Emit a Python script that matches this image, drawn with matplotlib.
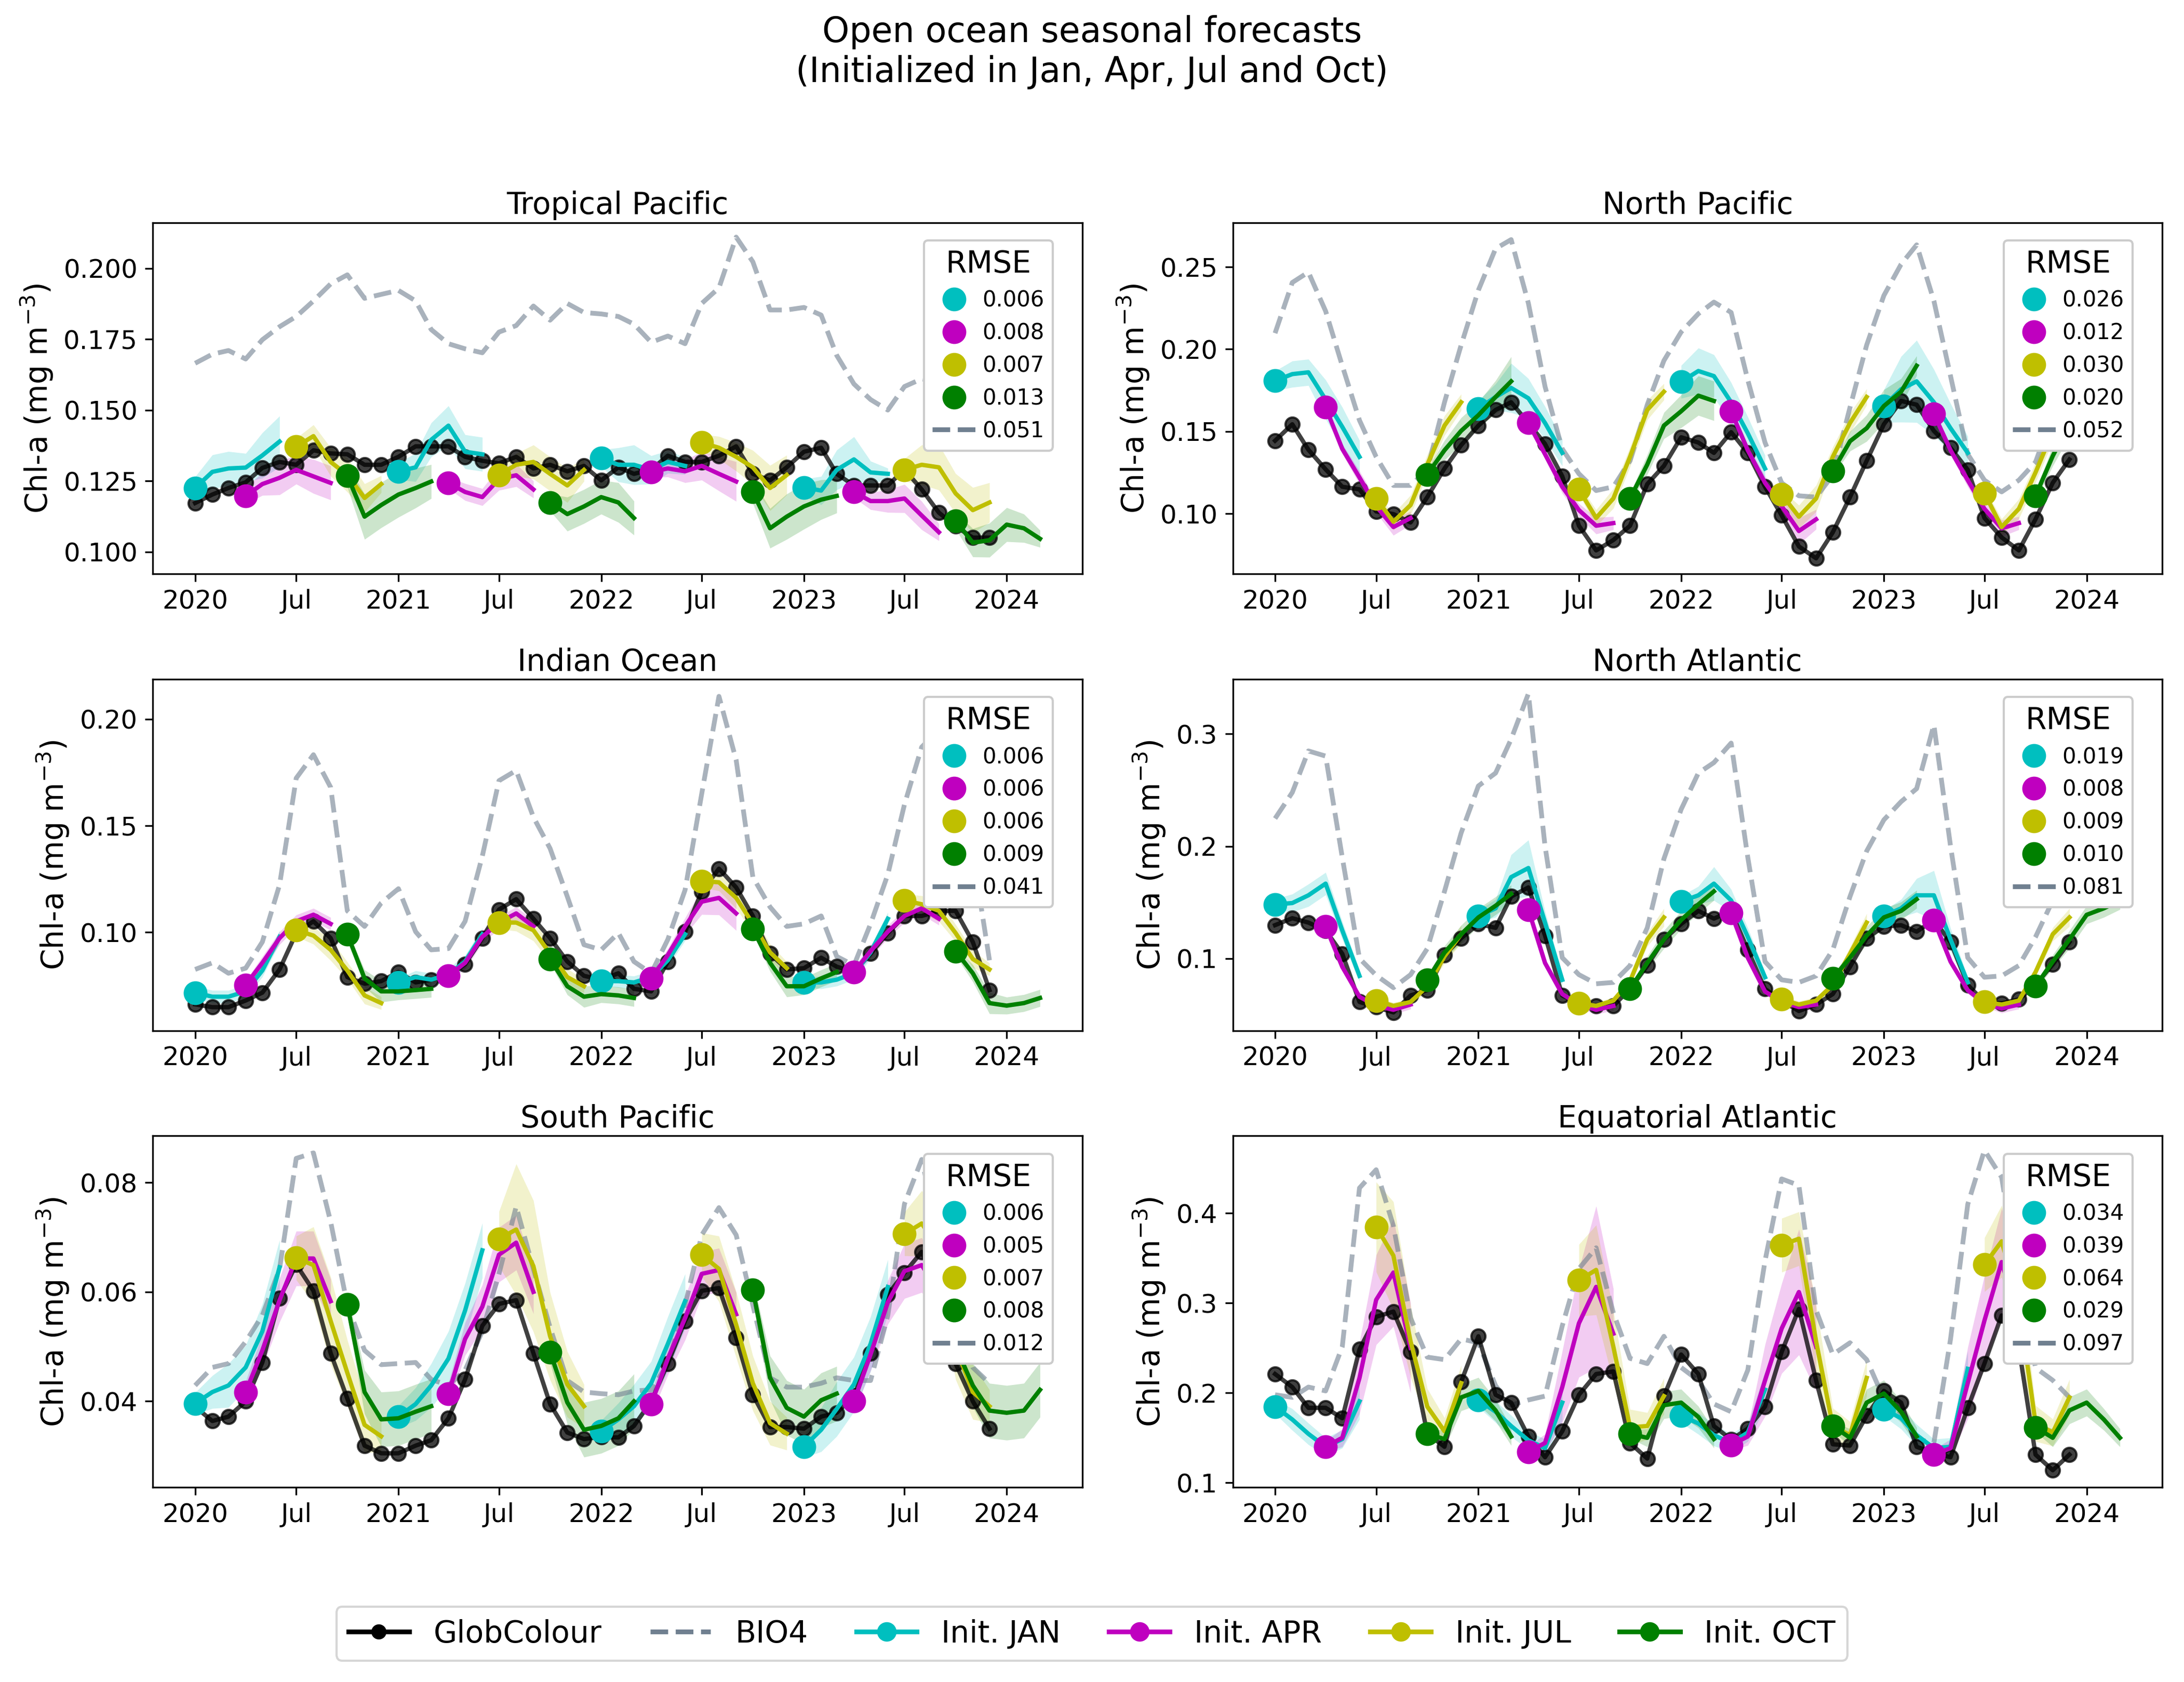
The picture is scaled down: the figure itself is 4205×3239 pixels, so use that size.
import matplotlib
matplotlib.use('Agg')
import matplotlib.pyplot as plt
import matplotlib.dates as mdates
from matplotlib.lines import Line2D
import numpy as np
import pandas as pd

years = [2020, 2021, 2022, 2023]
init_months = [1, 4, 7, 10]
init_names = ['Init. JAN', 'Init. APR', 'Init. JUL', 'Init. OCT']
init_colors = ['c', 'm', 'y', 'g']
bio4_color = 'slategray'

# ---------------- Tropical Pacific ----------------
tp_obs = [0.1172, 0.1202, 0.1225, 0.1245, 0.1296, 0.1317, 0.1307, 0.1358, 0.1347, 0.1344, 0.1307, 0.1307,
          0.1335, 0.1372, 0.1372, 0.1372, 0.1335, 0.1321, 0.1312, 0.1335, 0.1294, 0.1307, 0.1284, 0.1303,
          0.1252, 0.1298, 0.1275, 0.1290, 0.1339, 0.1317, 0.1317, 0.1339, 0.1372, 0.1275, 0.1252, 0.1298,
          0.1353, 0.1367, 0.1275, 0.1234, 0.1234, 0.1234, 0.1290, 0.1220, 0.1138, 0.1090, 0.1050, 0.1050]
tp_bio4 = [0.1665, 0.1697, 0.1710, 0.1680, 0.1748, 0.1794, 0.1830, 0.1885, 0.1945, 0.1977, 0.1894, 0.1908,
           0.1922, 0.1885, 0.1784, 0.1734, 0.1716, 0.1702, 0.1775, 0.1798, 0.1867, 0.1817, 0.1876, 0.1844,
           0.1839, 0.1830, 0.1803, 0.1739, 0.1761, 0.1734, 0.1876, 0.1931, 0.2110, 0.2023, 0.1853, 0.1853,
           0.1862, 0.1835, 0.1693, 0.1592, 0.1537, 0.1500, 0.1583, 0.1610, 0.1600, 0.1580, 0.1600, 0.1580]
tp_jan = [[0.1225, 0.1282, 0.1294, 0.1297, 0.1340, 0.1389], [0.1284, 0.1298, 0.1395, 0.1445, 0.1353, 0.1344],
          [0.1330, 0.1307, 0.1307, 0.1289, 0.1317, 0.1303], [0.1227, 0.1216, 0.1289, 0.1326, 0.1280, 0.1275]]
tp_apr = [[0.1197, 0.1239, 0.1261, 0.1289, 0.1266, 0.1243], [0.1243, 0.1211, 0.1193, 0.1257, 0.1270, 0.1220],
          [0.1282, 0.1294, 0.1284, 0.1303, 0.1275, 0.1248], [0.1211, 0.1179, 0.1179, 0.1188, 0.1128, 0.1069]]
tp_jul = [[0.1371, 0.1408, 0.1317, 0.1271, 0.1190, 0.1239], [0.1271, 0.1307, 0.1317, 0.1275, 0.1234, 0.1289],
          [0.1385, 0.1367, 0.1335, 0.1298, 0.1225, 0.1271], [0.1289, 0.1307, 0.1298, 0.1206, 0.1147, 0.1174]]
tp_oct = [[0.1268, 0.1124, 0.1165, 0.1202, 0.1225, 0.1248], [0.1174, 0.1133, 0.1160, 0.1193, 0.1174, 0.1119],
          [0.1211, 0.1083, 0.1124, 0.1160, 0.1184, 0.1197], [0.1110, 0.1032, 0.1041, 0.1096, 0.1083, 0.1046]]
tp_jan_sd = [[0.004, 0.006, 0.006, 0.005, 0.008, 0.009], [0.003, 0.005, 0.006, 0.007, 0.006, 0.006],
             [0.003, 0.006, 0.007, 0.005, 0.004, 0.003], [0.003, 0.005, 0.007, 0.008, 0.004, 0.002]]
tp_apr_sd = [[0.003, 0.004, 0.006, 0.005, 0.006, 0.006], [0.002, 0.003, 0.003, 0.004, 0.004, 0.003],
             [0.002, 0.003, 0.004, 0.005, 0.006, 0.007], [0.002, 0.003, 0.004, 0.005, 0.005, 0.003]]
tp_jul_sd = [[0.003, 0.004, 0.005, 0.006, 0.005, 0.003], [0.003, 0.004, 0.006, 0.006, 0.006, 0.004],
             [0.003, 0.004, 0.005, 0.006, 0.008, 0.007], [0.004, 0.007, 0.008, 0.007, 0.008, 0.007]]
tp_oct_sd = [[0.004, 0.008, 0.008, 0.008, 0.007, 0.006], [0.003, 0.006, 0.006, 0.006, 0.007, 0.006],
             [0.004, 0.007, 0.008, 0.008, 0.007, 0.006], [0.003, 0.005, 0.006, 0.006, 0.005, 0.003]]
tp_rmse = ['0.006', '0.008', '0.007', '0.013', '0.051']

# ---------------- North Pacific ----------------
np_obs = [0.1443, 0.1543, 0.1388, 0.1269, 0.1163, 0.1147, 0.1013, 0.0997, 0.0946, 0.1100, 0.1274, 0.1416,
          0.1535, 0.1630, 0.1677, 0.1551, 0.1424, 0.1227, 0.0926, 0.0776, 0.0839, 0.0926, 0.1179, 0.1290,
          0.1464, 0.1432, 0.1369, 0.1495, 0.1369, 0.1163, 0.0989, 0.0800, 0.0728, 0.0886, 0.1100, 0.1321,
          0.1543, 0.1685, 0.1662, 0.1503, 0.1400, 0.1266, 0.0973, 0.0855, 0.0776, 0.0966, 0.1187, 0.1329]
np_bio4 = [0.2097, 0.2405, 0.2468, 0.2231, 0.1899, 0.1567, 0.1345, 0.1171, 0.1171, 0.1266, 0.1677, 0.2025,
           0.2358, 0.2611, 0.2666, 0.2279, 0.1772, 0.1393, 0.1242, 0.1140, 0.1163, 0.1321, 0.1662, 0.1930,
           0.2104, 0.2215, 0.2286, 0.2223, 0.1812, 0.1432, 0.1187, 0.1108, 0.1100, 0.1234, 0.1646, 0.2025,
           0.2326, 0.2516, 0.2634, 0.2294, 0.1836, 0.1361, 0.1203, 0.1132, 0.1203, 0.1313, 0.1600, 0.2000]
np_jan = [[0.1807, 0.1848, 0.1859, 0.1693, 0.1527, 0.1345], [0.1638, 0.1709, 0.1764, 0.1701, 0.1551, 0.1369],
          [0.1801, 0.1867, 0.1836, 0.1677, 0.1488, 0.1274], [0.1654, 0.1756, 0.1804, 0.1677, 0.1519, 0.1369]]
np_apr = [[0.1646, 0.1393, 0.1219, 0.1045, 0.0918, 0.0973], [0.1551, 0.1361, 0.1163, 0.1021, 0.0926, 0.0942],
          [0.1622, 0.1385, 0.1187, 0.1045, 0.0894, 0.0965], [0.1606, 0.1385, 0.1203, 0.1029, 0.0910, 0.0942]]
np_jul = [[0.1092, 0.0950, 0.1052, 0.1298, 0.1535, 0.1677], [0.1147, 0.0973, 0.1092, 0.1345, 0.1630, 0.1741],
          [0.1116, 0.0981, 0.1092, 0.1345, 0.1551, 0.1709], [0.1124, 0.0918, 0.1029, 0.1250, 0.1500, 0.1650]]
np_oct = [[0.1238, 0.1385, 0.1503, 0.1598, 0.1709, 0.1804], [0.1092, 0.1298, 0.1535, 0.1622, 0.1717, 0.1685],
          [0.1258, 0.1440, 0.1519, 0.1654, 0.1741, 0.1899], [0.1108, 0.1350, 0.1550, 0.1650, 0.1700, 0.1750]]
np_jan_sd = [[0.006, 0.008, 0.008, 0.012, 0.012, 0.010], [0.005, 0.008, 0.015, 0.012, 0.010, 0.008],
             [0.010, 0.014, 0.013, 0.012, 0.010, 0.008], [0.010, 0.020, 0.025, 0.020, 0.015, 0.010]]
np_apr_sd = [[0.002, 0.003, 0.004, 0.004, 0.005, 0.004], [0.002, 0.003, 0.004, 0.004, 0.005, 0.004],
             [0.002, 0.003, 0.004, 0.004, 0.008, 0.006], [0.002, 0.003, 0.004, 0.004, 0.005, 0.004]]
np_jul_sd = [[0.003, 0.005, 0.006, 0.006, 0.006, 0.005], [0.003, 0.005, 0.006, 0.006, 0.006, 0.005],
             [0.003, 0.007, 0.008, 0.006, 0.006, 0.005], [0.003, 0.005, 0.006, 0.006, 0.006, 0.005]]
np_oct_sd = [[0.003, 0.006, 0.008, 0.008, 0.010, 0.015], [0.003, 0.006, 0.008, 0.010, 0.012, 0.012],
             [0.003, 0.006, 0.008, 0.010, 0.008, 0.006], [0.003, 0.006, 0.008, 0.008, 0.008, 0.008]]
np_rmse = ['0.026', '0.012', '0.030', '0.020', '0.052']

# ---------------- Indian Ocean ----------------
io_obs = [0.0661, 0.0648, 0.0648, 0.0679, 0.0716, 0.0825, 0.0996, 0.1051, 0.0972, 0.0789, 0.0758, 0.0770,
          0.0813, 0.0764, 0.0777, 0.0795, 0.0850, 0.0972, 0.1106, 0.1155, 0.1063, 0.0972, 0.0862, 0.0795,
          0.0777, 0.0807, 0.0734, 0.0722, 0.0862, 0.1002, 0.1190, 0.1298, 0.1210, 0.1076, 0.0899, 0.0825,
          0.0831, 0.0880, 0.0838, 0.0813, 0.0899, 0.0996, 0.1076, 0.1076, 0.1100, 0.1100, 0.0954, 0.0728]
io_bio4 = [0.0825, 0.0856, 0.0807, 0.0831, 0.0954, 0.1222, 0.1723, 0.1833, 0.1680, 0.1100, 0.1027, 0.1137,
           0.1204, 0.1002, 0.0917, 0.0923, 0.1051, 0.1357, 0.1711, 0.1759, 0.1540, 0.1393, 0.1167, 0.0941,
           0.0917, 0.0996, 0.0862, 0.0807, 0.0966, 0.1198, 0.1650, 0.2107, 0.1808, 0.1259, 0.1118, 0.1027,
           0.1039, 0.1076, 0.0886, 0.0844, 0.1039, 0.1271, 0.1600, 0.1869, 0.1950, 0.1900, 0.1370, 0.0868]
io_jan = [[0.0716, 0.0697, 0.0697, 0.0722, 0.0820, 0.0978], [0.0764, 0.0789, 0.0777, 0.0801, 0.0862, 0.0990],
          [0.0770, 0.0770, 0.0764, 0.0789, 0.0868, 0.0990], [0.0764, 0.0764, 0.0777, 0.0807, 0.0905, 0.1063]]
io_apr = [[0.0752, 0.0856, 0.0972, 0.1051, 0.1082, 0.1039], [0.0795, 0.0856, 0.0978, 0.1045, 0.1088, 0.1027],
          [0.0783, 0.0893, 0.1027, 0.1143, 0.1161, 0.1088], [0.0813, 0.0911, 0.1002, 0.1076, 0.1112, 0.1063]]
io_jul = [[0.1009, 0.0984, 0.0917, 0.0820, 0.0703, 0.0667], [0.1045, 0.1045, 0.1009, 0.0899, 0.0789, 0.0746],
          [0.1240, 0.1234, 0.1161, 0.1039, 0.0905, 0.0831], [0.1149, 0.1131, 0.1100, 0.0996, 0.0874, 0.0825]]
io_oct = [[0.0990, 0.0783, 0.0722, 0.0722, 0.0728, 0.0734], [0.0874, 0.0746, 0.0697, 0.0709, 0.0703, 0.0691],
          [0.1015, 0.0856, 0.0746, 0.0746, 0.0783, 0.0813], [0.0911, 0.0807, 0.0667, 0.0655, 0.0667, 0.0691]]
io_jan_sd = [[0.003, 0.003, 0.003, 0.003, 0.003, 0.003], [0.002, 0.003, 0.003, 0.003, 0.003, 0.003],
             [0.002, 0.003, 0.003, 0.003, 0.003, 0.003], [0.002, 0.003, 0.003, 0.003, 0.003, 0.003]]
io_apr_sd = [[0.002, 0.003, 0.003, 0.003, 0.003, 0.003], [0.002, 0.003, 0.003, 0.003, 0.003, 0.003],
             [0.002, 0.003, 0.004, 0.006, 0.008, 0.008], [0.002, 0.003, 0.003, 0.003, 0.003, 0.003]]
io_jul_sd = [[0.003, 0.004, 0.005, 0.004, 0.004, 0.003], [0.003, 0.004, 0.005, 0.004, 0.004, 0.003],
             [0.003, 0.004, 0.005, 0.004, 0.004, 0.003], [0.003, 0.004, 0.005, 0.004, 0.004, 0.003]]
io_oct_sd = [[0.002, 0.004, 0.005, 0.004, 0.004, 0.004], [0.002, 0.004, 0.005, 0.004, 0.004, 0.004],
             [0.002, 0.004, 0.005, 0.004, 0.004, 0.004], [0.002, 0.004, 0.005, 0.004, 0.004, 0.004]]
io_rmse = ['0.006', '0.006', '0.006', '0.009', '0.041']

# ---------------- North Atlantic ----------------
na_obs = [0.1297, 0.1359, 0.1320, 0.1250, 0.1042, 0.0613, 0.0567, 0.0520, 0.0671, 0.0717, 0.1030, 0.1181,
          0.1308, 0.1273, 0.1552, 0.1633, 0.1204, 0.0671, 0.0601, 0.0578, 0.0578, 0.0729, 0.0937, 0.1169,
          0.1308, 0.1424, 0.1355, 0.1424, 0.1077, 0.0729, 0.0625, 0.0532, 0.0590, 0.0683, 0.0926, 0.1181,
          0.1285, 0.1297, 0.1239, 0.1343, 0.1146, 0.0764, 0.0613, 0.0601, 0.0636, 0.0764, 0.0949, 0.1146]
na_bio4 = [0.2247, 0.2479, 0.2849, 0.2803, 0.1900, 0.1000, 0.0850, 0.0740, 0.0856, 0.1088, 0.1598, 0.2119,
           0.2537, 0.2652, 0.2954, 0.3359, 0.2000, 0.1007, 0.0856, 0.0775, 0.0787, 0.0937, 0.1273, 0.1888,
           0.2328, 0.2652, 0.2745, 0.2919, 0.1900, 0.0972, 0.0810, 0.0787, 0.0845, 0.1077, 0.1552, 0.1957,
           0.2235, 0.2397, 0.2513, 0.3081, 0.2000, 0.1007, 0.0833, 0.0845, 0.0937, 0.1192, 0.1517, 0.1900]
na_jan = [[0.1482, 0.1494, 0.1563, 0.1667, 0.1250, 0.0845], [0.1378, 0.1447, 0.1725, 0.1806, 0.1320, 0.0810],
          [0.1506, 0.1563, 0.1667, 0.1517, 0.1192, 0.0833], [0.1378, 0.1447, 0.1563, 0.1563, 0.1169, 0.0787]]
na_apr = [[0.1285, 0.0926, 0.0659, 0.0578, 0.0543, 0.0590], [0.1436, 0.0960, 0.0683, 0.0590, 0.0543, 0.0578],
          [0.1406, 0.1007, 0.0706, 0.0613, 0.0567, 0.0590], [0.1343, 0.0972, 0.0717, 0.0601, 0.0555, 0.0590]]
na_jul = [[0.0625, 0.0578, 0.0613, 0.0752, 0.1019, 0.1216], [0.0601, 0.0578, 0.0625, 0.0798, 0.1169, 0.1366],
          [0.0636, 0.0590, 0.0625, 0.0764, 0.1042, 0.1320], [0.0613, 0.0590, 0.0625, 0.0879, 0.1216, 0.1366]]
na_oct = [[0.0810, 0.1053, 0.1216, 0.1366, 0.1470, 0.1575], [0.0729, 0.0960, 0.1169, 0.1343, 0.1482, 0.1598],
          [0.0822, 0.1007, 0.1204, 0.1366, 0.1424, 0.1528], [0.0752, 0.0972, 0.1169, 0.1389, 0.1447, 0.1517]]
na_jan_sd = [[0.005, 0.008, 0.010, 0.010, 0.008, 0.005], [0.005, 0.008, 0.020, 0.025, 0.010, 0.005],
             [0.005, 0.008, 0.015, 0.010, 0.008, 0.005], [0.005, 0.008, 0.015, 0.022, 0.010, 0.005]]
na_apr_sd = [[0.004, 0.004, 0.003, 0.003, 0.004, 0.004], [0.004, 0.004, 0.003, 0.003, 0.004, 0.004],
             [0.004, 0.004, 0.003, 0.003, 0.004, 0.004], [0.004, 0.004, 0.003, 0.003, 0.004, 0.004]]
na_jul_sd = [[0.003, 0.003, 0.003, 0.004, 0.006, 0.008], [0.003, 0.003, 0.003, 0.004, 0.006, 0.008],
             [0.003, 0.003, 0.003, 0.004, 0.006, 0.008], [0.003, 0.003, 0.003, 0.004, 0.006, 0.008]]
na_oct_sd = [[0.003, 0.006, 0.008, 0.008, 0.008, 0.008], [0.003, 0.006, 0.008, 0.008, 0.008, 0.008],
             [0.003, 0.006, 0.008, 0.008, 0.008, 0.008], [0.003, 0.006, 0.008, 0.008, 0.008, 0.008]]
na_rmse = ['0.019', '0.008', '0.009', '0.010', '0.081']

# ---------------- South Pacific ----------------
sp_obs = [0.0390, 0.0364, 0.0372, 0.0400, 0.0471, 0.0588, 0.0650, 0.0602, 0.0488, 0.0405, 0.0319, 0.0305,
          0.0305, 0.0319, 0.0329, 0.0369, 0.0440, 0.0538, 0.0578, 0.0585, 0.0488, 0.0395, 0.0343, 0.0331,
          0.0335, 0.0334, 0.0355, 0.0400, 0.0469, 0.0547, 0.0602, 0.0607, 0.0516, 0.0412, 0.0353, 0.0353,
          0.0350, 0.0372, 0.0379, 0.0410, 0.0488, 0.0595, 0.0635, 0.0673, 0.0600, 0.0469, 0.0400, 0.0350]
sp_bio4 = [0.0429, 0.0462, 0.0469, 0.0509, 0.0557, 0.0642, 0.0844, 0.0854, 0.0728, 0.0576, 0.0493, 0.0467,
           0.0469, 0.0471, 0.0440, 0.0429, 0.0457, 0.0528, 0.0633, 0.0756, 0.0642, 0.0535, 0.0438, 0.0417,
           0.0414, 0.0412, 0.0419, 0.0421, 0.0469, 0.0576, 0.0704, 0.0754, 0.0704, 0.0576, 0.0443, 0.0426,
           0.0426, 0.0433, 0.0443, 0.0438, 0.0438, 0.0557, 0.0761, 0.0842, 0.0700, 0.0550, 0.0462, 0.0433]
sp_jan = [[0.0396, 0.0417, 0.0429, 0.0462, 0.0528, 0.0645], [0.0372, 0.0395, 0.0429, 0.0478, 0.0566, 0.0676],
          [0.0345, 0.0367, 0.0391, 0.0433, 0.0505, 0.0583], [0.0317, 0.0348, 0.0386, 0.0431, 0.0505, 0.0609]]
sp_apr = [[0.0417, 0.0493, 0.0585, 0.0661, 0.0661, 0.0583], [0.0414, 0.0514, 0.0573, 0.0668, 0.0690, 0.0600],
          [0.0395, 0.0478, 0.0552, 0.0633, 0.0640, 0.0559], [0.0400, 0.0486, 0.0581, 0.0638, 0.0649, 0.0600]]
sp_jul = [[0.0662, 0.0649, 0.0547, 0.0452, 0.0357, 0.0336], [0.0697, 0.0714, 0.0647, 0.0519, 0.0431, 0.0391],
          [0.0668, 0.0642, 0.0540, 0.0433, 0.0360, 0.0341], [0.0706, 0.0725, 0.0680, 0.0500, 0.0417, 0.0391]]
sp_oct = [[0.0577, 0.0417, 0.0367, 0.0369, 0.0381, 0.0391], [0.0490, 0.0398, 0.0348, 0.0355, 0.0369, 0.0400],
          [0.0604, 0.0443, 0.0388, 0.0372, 0.0402, 0.0414], [0.0500, 0.0429, 0.0383, 0.0379, 0.0383, 0.0421]]
sp_jan_sd = [[0.002, 0.003, 0.004, 0.004, 0.005, 0.005], [0.002, 0.003, 0.004, 0.005, 0.005, 0.005],
             [0.002, 0.003, 0.004, 0.004, 0.005, 0.005], [0.002, 0.004, 0.005, 0.005, 0.005, 0.005]]
sp_apr_sd = [[0.002, 0.003, 0.004, 0.005, 0.005, 0.004], [0.002, 0.003, 0.004, 0.005, 0.005, 0.004],
             [0.002, 0.003, 0.004, 0.004, 0.004, 0.004], [0.002, 0.003, 0.004, 0.005, 0.005, 0.004]]
sp_jul_sd = [[0.004, 0.007, 0.008, 0.006, 0.005, 0.003], [0.005, 0.012, 0.012, 0.008, 0.006, 0.004],
             [0.004, 0.006, 0.006, 0.005, 0.004, 0.003], [0.004, 0.006, 0.007, 0.006, 0.005, 0.003]]
sp_oct_sd = [[0.002, 0.004, 0.005, 0.005, 0.005, 0.005], [0.002, 0.004, 0.005, 0.005, 0.005, 0.005],
             [0.002, 0.004, 0.005, 0.005, 0.005, 0.005], [0.002, 0.004, 0.005, 0.005, 0.005, 0.005]]
sp_rmse = ['0.006', '0.005', '0.007', '0.008', '0.012']

# ---------------- Equatorial Atlantic ----------------
ea_obs = [0.2210, 0.2065, 0.1834, 0.1834, 0.1718, 0.2485, 0.2847, 0.2905, 0.2456, 0.1550, 0.1400, 0.2123,
          0.2630, 0.1979, 0.1892, 0.1515, 0.1284, 0.1573, 0.1979, 0.2210, 0.2239, 0.1443, 0.1269, 0.1964,
          0.2427, 0.2210, 0.1631, 0.1480, 0.1602, 0.1848, 0.2456, 0.2934, 0.2138, 0.1428, 0.1414, 0.1747,
          0.2022, 0.1892, 0.1400, 0.1330, 0.1284, 0.1834, 0.2326, 0.2862, 0.2500, 0.1313, 0.1139, 0.1313]
ea_bio4 = [0.1979, 0.1950, 0.2065, 0.2022, 0.2514, 0.4281, 0.4484, 0.3861, 0.2833, 0.2398, 0.2370, 0.2601,
           0.2558, 0.2080, 0.1863, 0.1921, 0.1964, 0.2746, 0.3383, 0.3615, 0.2891, 0.2384, 0.2326, 0.2630,
           0.2283, 0.2138, 0.1877, 0.1790, 0.2254, 0.3470, 0.4382, 0.4310, 0.2920, 0.2427, 0.2558, 0.2370,
           0.1935, 0.1776, 0.1486, 0.1443, 0.2600, 0.4100, 0.4700, 0.4400, 0.3200, 0.2280, 0.2140, 0.1950]
ea_jan = [[0.1848, 0.1704, 0.1544, 0.1400, 0.1486, 0.1906], [0.1921, 0.1790, 0.1631, 0.1472, 0.1385, 0.1892],
          [0.1747, 0.1660, 0.1530, 0.1443, 0.1559, 0.2036], [0.1819, 0.1718, 0.1530, 0.1385, 0.1400, 0.2268]]
ea_apr = [[0.1400, 0.1500, 0.2167, 0.3036, 0.3340, 0.2500], [0.1342, 0.1443, 0.2065, 0.2775, 0.3180, 0.2659],
          [0.1420, 0.1515, 0.2138, 0.2717, 0.3123, 0.2514], [0.1313, 0.1385, 0.2109, 0.2804, 0.3456, 0.2800]]
ea_jul = [[0.3847, 0.3528, 0.2572, 0.1848, 0.1573, 0.2109], [0.3253, 0.3369, 0.2514, 0.1617, 0.1631, 0.1964],
          [0.3644, 0.3716, 0.2572, 0.1631, 0.1530, 0.2167], [0.3427, 0.3687, 0.3000, 0.1660, 0.1559, 0.1950]]
ea_oct = [[0.1544, 0.1486, 0.1950, 0.2022, 0.1805, 0.1515], [0.1544, 0.1500, 0.1863, 0.1892, 0.1732, 0.1486],
          [0.1631, 0.1500, 0.1892, 0.1993, 0.1790, 0.1515], [0.1617, 0.1500, 0.1805, 0.1892, 0.1704, 0.1500]]
ea_jan_sd = [[0.008, 0.012, 0.012, 0.010, 0.010, 0.020], [0.008, 0.012, 0.012, 0.010, 0.010, 0.020],
             [0.008, 0.012, 0.012, 0.010, 0.010, 0.020], [0.008, 0.012, 0.012, 0.010, 0.010, 0.020]]
ea_apr_sd = [[0.006, 0.010, 0.040, 0.050, 0.060, 0.050], [0.006, 0.010, 0.040, 0.060, 0.090, 0.050],
             [0.006, 0.010, 0.040, 0.050, 0.070, 0.050], [0.006, 0.010, 0.040, 0.050, 0.060, 0.050]]
ea_jul_sd = [[0.050, 0.060, 0.040, 0.020, 0.015, 0.020], [0.040, 0.050, 0.040, 0.020, 0.015, 0.020],
             [0.030, 0.030, 0.040, 0.020, 0.015, 0.020], [0.030, 0.040, 0.040, 0.020, 0.015, 0.020]]
ea_oct_sd = [[0.005, 0.010, 0.015, 0.015, 0.012, 0.010], [0.005, 0.010, 0.015, 0.015, 0.012, 0.010],
             [0.005, 0.010, 0.015, 0.015, 0.012, 0.010], [0.005, 0.010, 0.015, 0.015, 0.012, 0.010]]
ea_rmse = ['0.034', '0.039', '0.064', '0.029', '0.097']

obs_dates = pd.date_range('2020-01-01', periods=48, freq='MS')


def plot_region(ax, title, obs, bio4, fcs, sds, rmse, ylim):
    ax.plot(obs_dates, bio4, ls='--', color=bio4_color, alpha=0.6, lw=2.2)
    ax.plot(obs_dates, obs, color='k', marker='o', ms=6.5, lw=2, alpha=0.75)
    for k in range(4):
        c = init_colors[k]
        for i, yr in enumerate(years):
            t = pd.date_range(f'{yr}-{init_months[k]:02d}-01', periods=6, freq='MS')
            v = np.array(fcs[k][i])
            s = np.array(sds[k][i])
            ax.fill_between(t, v - s, v + s, color=c, alpha=0.2, lw=0)
            ax.plot(t, v, color=c, lw=2)
            ax.plot(t[:1], v[:1], 'o', color=c, ms=10)
    ax.set_title(title, fontsize=14, pad=4)
    ax.set_ylabel('Chl-a (mg m$^{-3}$)', fontsize=14)
    ax.set_ylim(ylim)
    loc = mdates.MonthLocator(bymonth=[1, 7])
    ax.xaxis.set_major_locator(loc)
    ax.xaxis.set_major_formatter(mdates.ConciseDateFormatter(loc))
    ax.tick_params(labelsize=12)
    handles = [Line2D([], [], color=c, marker='o', ls='none', ms=10) for c in init_colors]
    handles.append(Line2D([], [], color=bio4_color, ls='--', lw=2.2))
    ax.legend(handles, rmse, title='RMSE', title_fontsize=14, fontsize=10, framealpha=1,
              handletextpad=0.3, loc='upper right', bbox_to_anchor=(0.98, 0.98))


fig, axes = plt.subplots(3, 2, figsize=(14.017, 10.797))
fig.subplots_adjust(left=0.070, right=0.990, top=0.8676, bottom=0.1158, wspace=0.162, hspace=0.30)

plot_region(axes[0, 0], 'Tropical Pacific', tp_obs, tp_bio4, [tp_jan, tp_apr, tp_jul, tp_oct],
            [tp_jan_sd, tp_apr_sd, tp_jul_sd, tp_oct_sd], tp_rmse, (0.0922, 0.2161))
plot_region(axes[0, 1], 'North Pacific', np_obs, np_bio4, [np_jan, np_apr, np_jul, np_oct],
            [np_jan_sd, np_apr_sd, np_jul_sd, np_oct_sd], np_rmse, (0.0633, 0.2769))
plot_region(axes[1, 0], 'Indian Ocean', io_obs, io_bio4, [io_jan, io_apr, io_jul, io_oct],
            [io_jan_sd, io_apr_sd, io_jul_sd, io_oct_sd], io_rmse, (0.0538, 0.2187))
plot_region(axes[1, 1], 'North Atlantic', na_obs, na_bio4, [na_jan, na_apr, na_jul, na_oct],
            [na_jan_sd, na_apr_sd, na_jul_sd, na_oct_sd], na_rmse, (0.0358, 0.3487))
plot_region(axes[2, 0], 'South Pacific', sp_obs, sp_bio4, [sp_jan, sp_apr, sp_jul, sp_oct],
            [sp_jan_sd, sp_apr_sd, sp_jul_sd, sp_oct_sd], sp_rmse, (0.0243, 0.0885))
plot_region(axes[2, 1], 'Equatorial Atlantic', ea_obs, ea_bio4, [ea_jan, ea_apr, ea_jul, ea_oct],
            [ea_jan_sd, ea_apr_sd, ea_jul_sd, ea_oct_sd], ea_rmse, (0.095, 0.486))

fig.suptitle('Open ocean seasonal forecasts\n(Initialized in Jan, Apr, Jul and Oct)', fontsize=16, y=0.991)

leg_handles = [Line2D([], [], color='k', marker='o', ms=6, lw=2.2),
               Line2D([], [], color=bio4_color, ls='--', lw=2.2)]
leg_handles += [Line2D([], [], color=c, marker='o', ms=8, lw=2.2) for c in init_colors]
leg_labels = ['GlobColour', 'BIO4'] + init_names
fig.legend(leg_handles, leg_labels, loc='center', bbox_to_anchor=(0.5, 0.0287), ncol=6, fontsize=14,
           columnspacing=1.6)

fig.savefig('out.png', dpi=300)
plt.close()
